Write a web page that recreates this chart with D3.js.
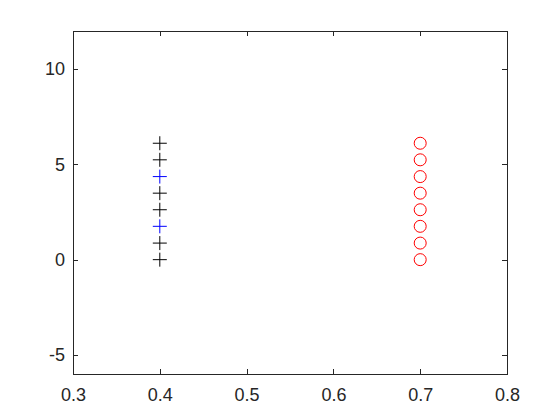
<!DOCTYPE html>
<html>
<head>
<meta charset="utf-8">
<script src="https://cdn.jsdelivr.net/npm/d3@7"></script>
<style>
  body { margin: 0; background: #fff; }
  svg text { font-family: "Liberation Sans", Arial, sans-serif; fill: #262626; }
</style>
</head>
<body>
<svg id="chart"></svg>
<script>
// data
let plusX = 0.4
let circleX = 0.7
let yValues = [0, 0.87, 1.75, 2.62, 3.49, 4.36, 5.24, 6.11]
let plusColors = ["black", "black", "blue", "black", "black", "blue", "black", "black"]
let xTicks = [0.3, 0.4, 0.5, 0.6, 0.7, 0.8]
let yTicks = [-5, 0, 5, 10]

let width = 560
let height = 420
let plotLeft = 73, plotRight = 507, plotTop = 31, plotBottom = 374

let svg = d3.select("#chart").attr("width", width).attr("height", height)

let xScale = d3.scaleLinear().domain([0.3, 0.8]).range([plotLeft, plotRight])
let yScale = d3.scaleLinear().domain([-6, 12]).range([plotBottom, plotTop])

// box
svg.append("rect")
   .attr("x", plotLeft).attr("y", plotTop)
   .attr("width", plotRight - plotLeft).attr("height", plotBottom - plotTop)
   .attr("fill", "white").attr("stroke", "#262626").attr("stroke-width", 1)
   .attr("shape-rendering", "crispEdges")

let styleAxis = (g) => {
    g.attr("font-size", null).attr("font-family", null)
    g.select(".domain").remove()
    g.selectAll("line").attr("stroke", "#262626").attr("shape-rendering", "crispEdges")
    g.selectAll("text").attr("fill", "#262626").style("font-size", "18px")
}

let fmtX = d3.format(".1f")
let fmtY = (d) => String(d)

svg.append("g")
   .attr("transform", "translate(0," + plotBottom + ")")
   .call(d3.axisBottom(xScale).tickValues(xTicks).tickFormat(fmtX).tickSizeInner(-5).tickSizeOuter(0).tickPadding(14))
   .call(styleAxis)

svg.append("g")
   .attr("transform", "translate(0," + plotTop + ")")
   .call(d3.axisTop(xScale).tickValues(xTicks).tickFormat("").tickSizeInner(-5).tickSizeOuter(0))
   .call(styleAxis)

svg.append("g")
   .attr("transform", "translate(" + plotLeft + ",0)")
   .call(d3.axisLeft(yScale).tickValues(yTicks).tickFormat(fmtY).tickSizeInner(-5).tickSizeOuter(0).tickPadding(8))
   .call(styleAxis)

svg.append("g")
   .attr("transform", "translate(" + plotRight + ",0)")
   .call(d3.axisRight(yScale).tickValues(yTicks).tickFormat("").tickSizeInner(-5).tickSizeOuter(0))
   .call(styleAxis)

// plus markers
let plusSize = 7
let pluses = svg.append("g").selectAll("g")
   .data(yValues)
   .enter()
   .append("g")
   .attr("transform", (d) => "translate(" + xScale(plusX) + "," + yScale(d) + ")")

pluses.append("line")
   .attr("x1", -plusSize).attr("x2", plusSize).attr("y1", 0).attr("y2", 0)
   .attr("stroke", (d, i) => plusColors[i])
pluses.append("line")
   .attr("x1", 0).attr("x2", 0).attr("y1", -plusSize).attr("y2", plusSize)
   .attr("stroke", (d, i) => plusColors[i])

// circle markers
svg.append("g").selectAll("circle")
   .data(yValues)
   .enter()
   .append("circle")
   .attr("cx", xScale(circleX))
   .attr("cy", (d) => yScale(d))
   .attr("r", 6)
   .attr("fill", "none")
   .attr("stroke", "red")
   .attr("stroke-width", 1)
</script>
</body>
</html>
